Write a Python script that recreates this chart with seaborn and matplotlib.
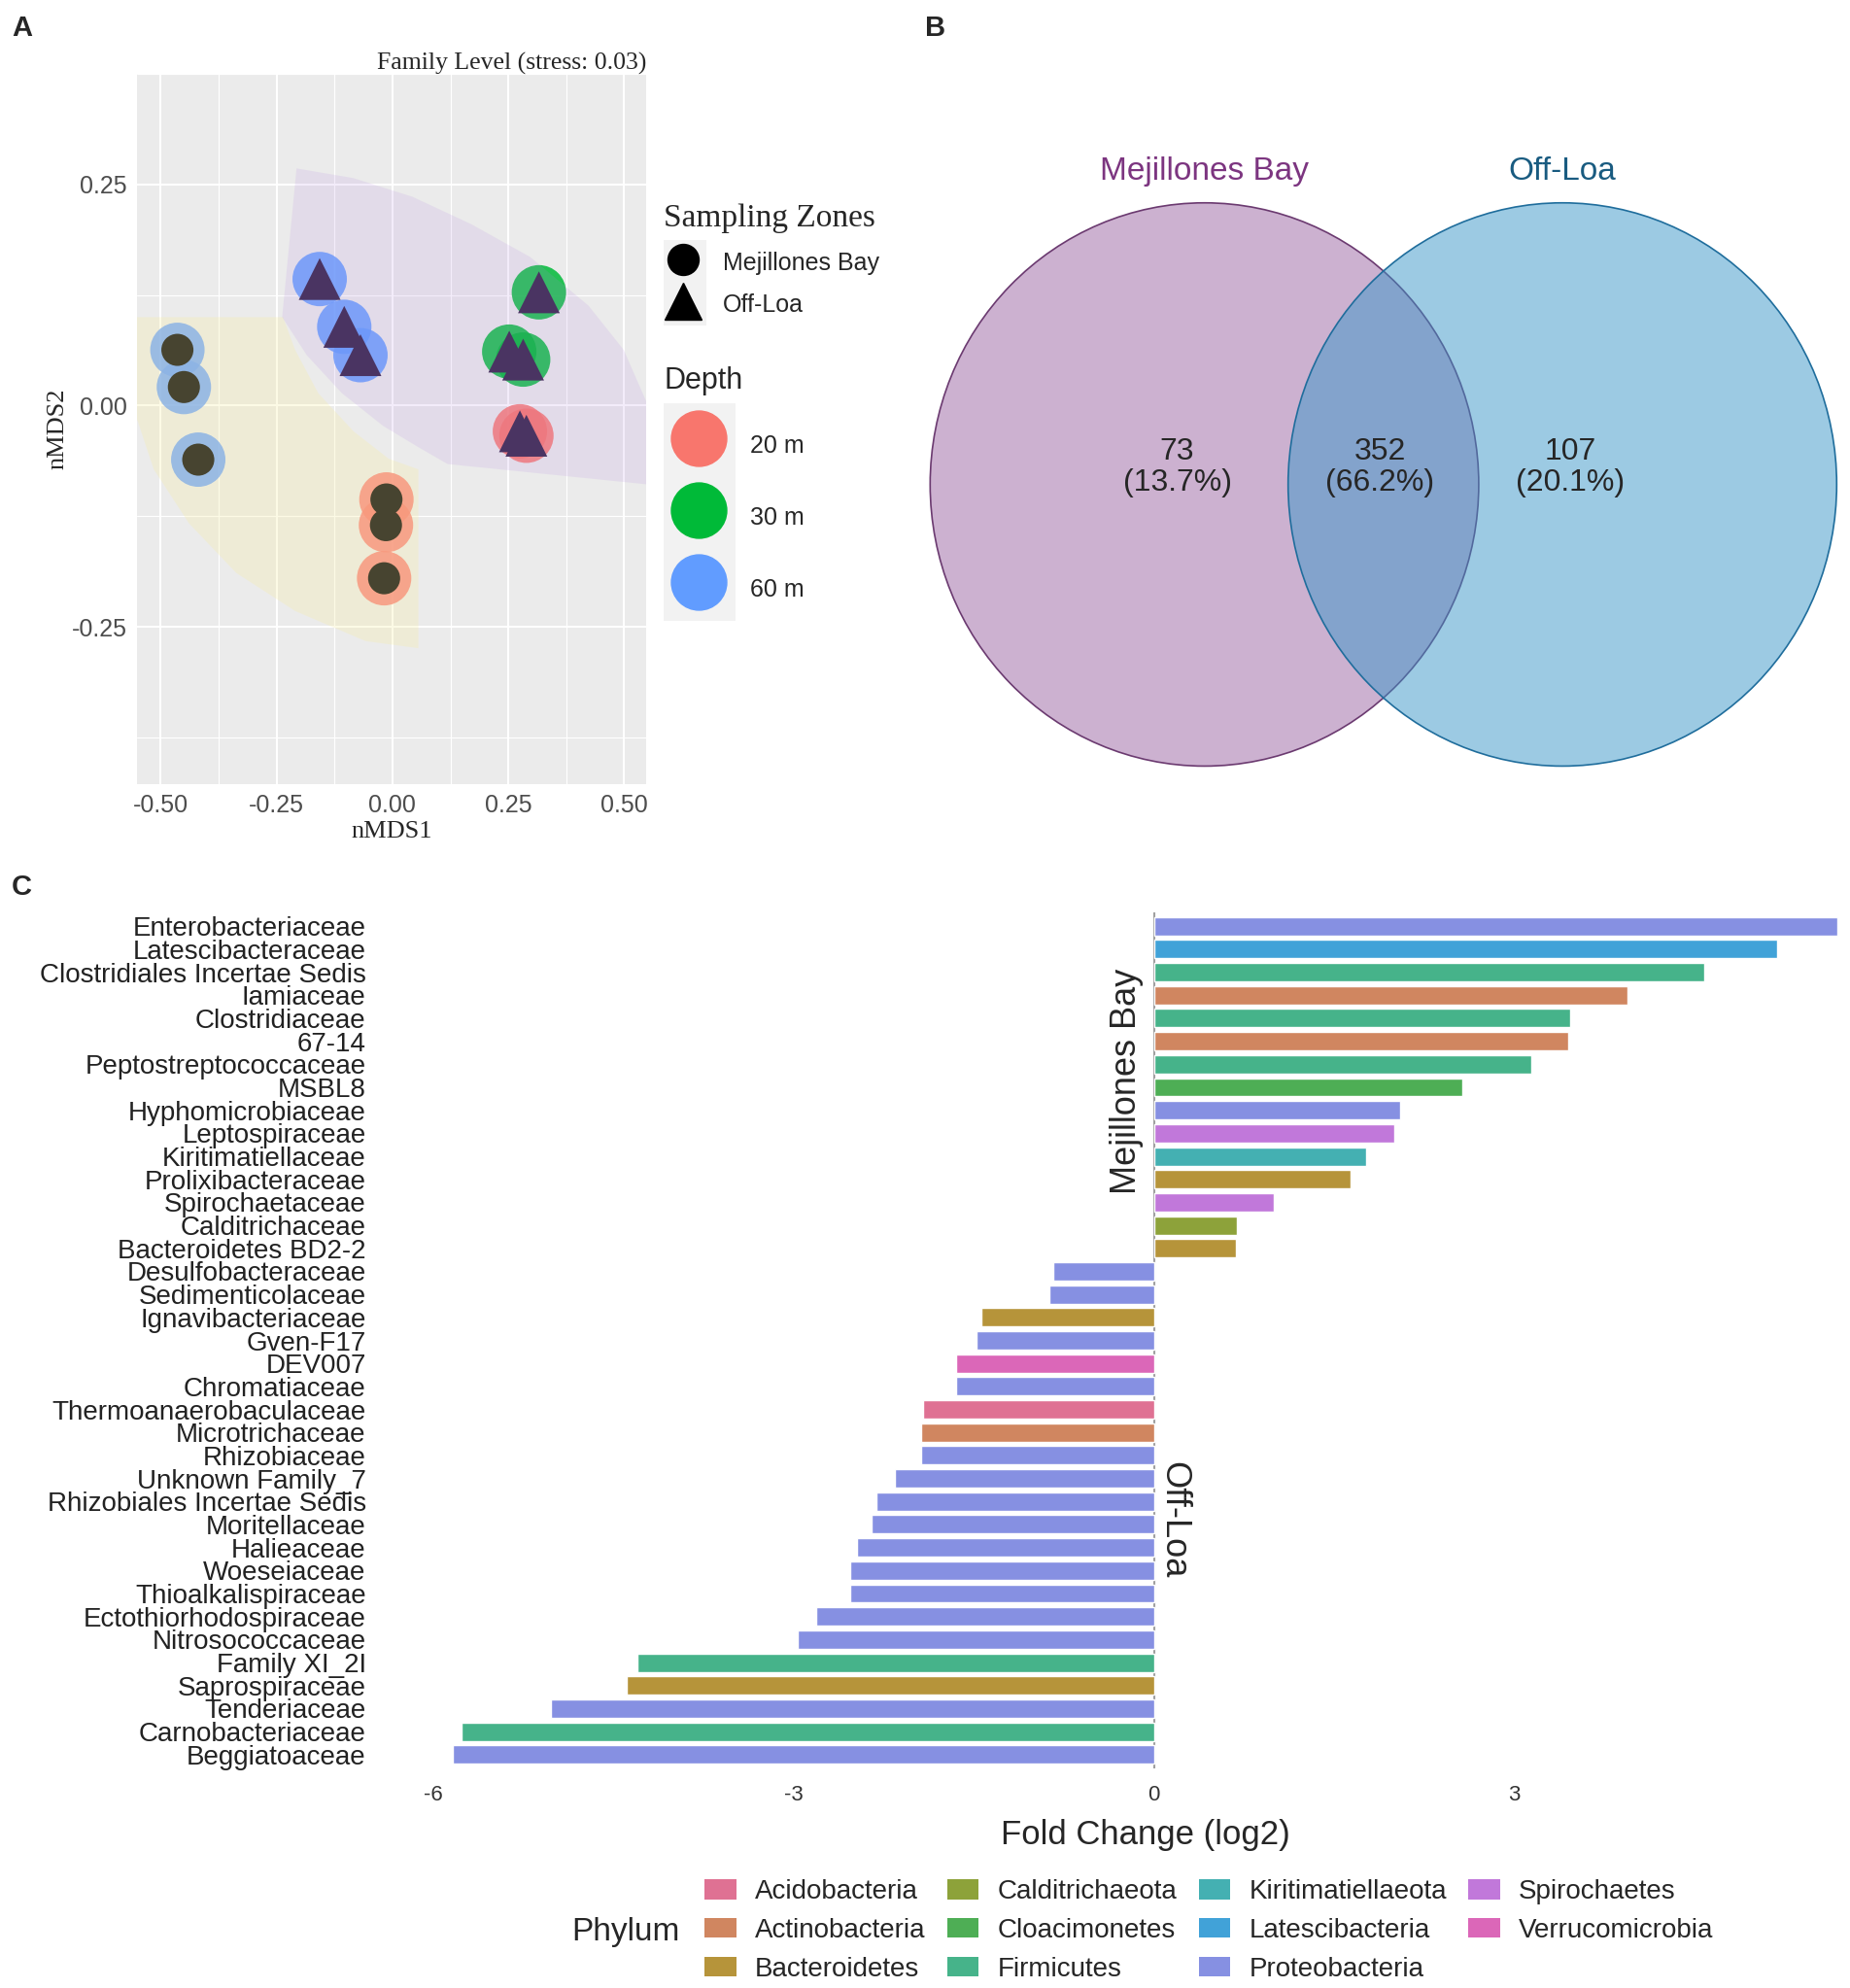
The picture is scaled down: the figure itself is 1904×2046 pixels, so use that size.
"""Three-panel figure: nMDS ordination, Venn diagram and fold-change bars."""

import numpy as np
import pandas as pd
import matplotlib
matplotlib.use("Agg")
import matplotlib.pyplot as plt
import seaborn as sns
from matplotlib.patches import Ellipse, Rectangle, Patch
from matplotlib.lines import Line2D

sns.set_theme(style="white")
plt.rcParams["font.family"] = ["Liberation Sans", "DejaVu Sans"]
SERIF = "Liberation Serif"

# ---------------- data: panel A (nMDS) ----------------
nmds1 = [-0.464, -0.450, -0.419, -0.013, -0.014, -0.018,
         -0.157, -0.104, -0.069, 0.316, 0.252, 0.282, 0.275, 0.289]
nmds2 = [0.063, 0.021, -0.061, -0.106, -0.135, -0.195,
         0.143, 0.089, 0.057, 0.128, 0.061, 0.052, -0.029, -0.034]
zone = ["Mejillones Bay"] * 6 + ["Off-Loa"] * 8
depth = ["60 m", "60 m", "60 m", "20 m", "20 m", "20 m",
         "60 m", "60 m", "60 m", "30 m", "30 m", "30 m", "20 m", "20 m"]

# shaded group regions (nMDS units)
mej_region_x = [-0.62, -0.236, -0.210, -0.160, -0.084, -0.008, 0.056, 0.056,
                -0.058, -0.210, -0.337, -0.439, -0.515, -0.550, -0.62]
mej_region_y = [0.100, 0.100, 0.063, 0.014, -0.029, -0.060, -0.072, -0.274,
                -0.266, -0.232, -0.189, -0.133, -0.072, -0.017, 0.030]
off_region_x = [-0.207, -0.238, -0.185, -0.109, -0.020, 0.056, 0.119, 0.550,
                0.62, 0.62, 0.550, 0.499, 0.423, 0.297, 0.170, 0.043, -0.084]
off_region_y = [0.268, 0.100, 0.057, 0.014, -0.023, -0.047, -0.066, -0.089,
                -0.094, -0.040, 0.002, 0.063, 0.113, 0.168, 0.205, 0.236, 0.257]

# ---------------- data: panel B (Venn) ----------------
venn_sets = ["Mejillones Bay", "Off-Loa"]
venn_counts = [73, 352, 107]   # only Mejillones, shared, only Off-Loa

# ---------------- data: panel C (fold change) ----------------
families = ["Enterobacteriaceae", "Latescibacteraceae", "Clostridiales Incertae Sedis",
            "Iamiaceae", "Clostridiaceae", "67-14", "Peptostreptococcaceae", "MSBL8",
            "Hyphomicrobiaceae", "Leptospiraceae", "Kiritimatiellaceae",
            "Prolixibacteraceae", "Spirochaetaceae", "Calditrichaceae",
            "Bacteroidetes BD2-2", "Desulfobacteraceae", "Sedimenticolaceae",
            "Ignavibacteriaceae", "Gven-F17", "DEV007", "Chromatiaceae",
            "Thermoanaerobaculaceae", "Microtrichaceae", "Rhizobiaceae",
            "Unknown Family_7", "Rhizobiales Incertae Sedis", "Moritellaceae",
            "Halieaceae", "Woeseiaceae", "Thioalkalispiraceae",
            "Ectothiorhodospiraceae", "Nitrosococcaceae", "Family XI_2I",
            "Saprospiraceae", "Tenderiaceae", "Carnobacteriaceae", "Beggiatoaceae"]
fold_change = [5.69, 5.19, 4.58, 3.94, 3.47, 3.45, 3.14, 2.57, 2.05, 2.00, 1.77,
               1.64, 1.00, 0.69, 0.68, -0.84, -0.87, -1.44, -1.48, -1.65, -1.65,
               -1.92, -1.94, -1.94, -2.16, -2.31, -2.35, -2.47, -2.53, -2.53,
               -2.81, -2.97, -4.30, -4.39, -5.02, -5.77, -5.84]
phylum = ["Proteobacteria", "Latescibacteria", "Firmicutes", "Actinobacteria",
          "Firmicutes", "Actinobacteria", "Firmicutes", "Cloacimonetes",
          "Proteobacteria", "Spirochaetes", "Kiritimatiellaeota", "Bacteroidetes",
          "Spirochaetes", "Calditrichaeota", "Bacteroidetes", "Proteobacteria",
          "Proteobacteria", "Bacteroidetes", "Proteobacteria", "Verrucomicrobia",
          "Proteobacteria", "Acidobacteria", "Actinobacteria"] + \
         ["Proteobacteria"] * 9 + \
         ["Firmicutes", "Bacteroidetes", "Proteobacteria", "Firmicutes", "Proteobacteria"]
phyla = ["Acidobacteria", "Actinobacteria", "Bacteroidetes", "Calditrichaeota",
         "Cloacimonetes", "Firmicutes", "Kiritimatiellaeota", "Latescibacteria",
         "Proteobacteria", "Spirochaetes", "Verrucomicrobia"]

# ---------------- styles ----------------
DEPTH_COLORS = {"20 m": "#F8766D", "30 m": "#00BA38", "60 m": "#619CFF"}
ZONE_COLORS = {"Mejillones Bay": "#000000", "Off-Loa": "#38274c"}
ZONE_MARKERS = {"Mejillones Bay": "o", "Off-Loa": "^"}
ZONE_SIZES = {"Mejillones Bay": 566, "Off-Loa": 961}
PHYLUM_COLORS = dict(zip(phyla, ["#df7193", "#d08660", "#b6943a", "#8da23a",
                                 "#4eae55", "#46b38a", "#44b0b2", "#41a2d8",
                                 "#8690e2", "#c178da", "#db67b8"]))

W, H = 1904, 2046
fig = plt.figure(figsize=(W / 100, H / 100), dpi=100)


def box(left, top, right, bottom):
    return [left / W, 1 - bottom / H, (right - left) / W, (bottom - top) / H]


def fx(px):
    return px / W


def fy(py):
    return 1 - py / H


# ================= Panel A =================
df_a = pd.DataFrame({"nMDS1": nmds1, "nMDS2": nmds2, "Zone": zone, "Depth": depth})
ax_a = fig.add_axes(box(140.6, 75.8, 665.3, 806.5))
ax_a.set_facecolor("#ebebeb")

sns.scatterplot(data=df_a, x="nMDS1", y="nMDS2", hue="Depth", palette=DEPTH_COLORS,
                s=1625, linewidth=0, alpha=0.85, legend=False, ax=ax_a, zorder=2)
sns.scatterplot(data=df_a, x="nMDS1", y="nMDS2", hue="Zone", style="Zone", size="Zone",
                palette=ZONE_COLORS, markers=ZONE_MARKERS, sizes=ZONE_SIZES,
                linewidth=0, legend=False, ax=ax_a, zorder=3)
ax_a.fill(mej_region_x, mej_region_y, color="#f8eea6", alpha=0.29, lw=0, zorder=4)
ax_a.fill(off_region_x, off_region_y, color="#b485e3", alpha=0.15, lw=0, zorder=4)

ax_a.set_xlim(-0.552, 0.548)
ax_a.set_ylim(-0.427, 0.374)
ax_a.set_xticks([-0.5, -0.25, 0, 0.25, 0.5])
ax_a.set_xticklabels(["-0.50", "-0.25", "0.00", "0.25", "0.50"])
ax_a.set_xticks([-0.375, -0.125, 0.125, 0.375], minor=True)
ax_a.set_yticks([-0.25, 0, 0.25])
ax_a.set_yticklabels(["-0.25", "0.00", "0.25"])
ax_a.set_yticks([-0.375, -0.125, 0.125, 0.375], minor=True)
ax_a.set_axisbelow(True)
ax_a.grid(which="major", color="white", lw=1.5)
ax_a.grid(which="minor", color="white", lw=0.8)
ax_a.tick_params(which="major", length=3.3, width=1, color="#333333",
                 labelsize=18, labelcolor="#4d4d4d", pad=4)
ax_a.tick_params(which="minor", length=0)
for sp in ax_a.spines.values():
    sp.set_visible(False)
ax_a.set_xlabel("nMDS1", fontfamily=SERIF, fontsize=19, labelpad=3)
ax_a.set_ylabel("nMDS2", fontfamily=SERIF, fontsize=19, labelpad=2)
ax_a.set_title("Family Level (stress: 0.03)", loc="right", fontfamily=SERIF,
               fontsize=18.5, pad=3)

# legend key backgrounds
for (l, t, r, b) in [(683, 247, 727, 335), (683, 415, 757, 639)]:
    fig.patches.append(Rectangle((fx(l), fy(b)), (r - l) / W, (b - t) / H,
                                 transform=fig.transFigure, facecolor="#f2f2f2",
                                 edgecolor="none", zorder=1))

zone_handles = [Line2D([], [], ls="", marker=ZONE_MARKERS[z], color="black",
                       markersize=23 if ZONE_MARKERS[z] == "o" else 28)
                for z in ZONE_MARKERS]
leg1 = fig.legend(zone_handles, list(ZONE_MARKERS), loc="upper left",
                  bbox_to_anchor=(fx(683), fy(209)), bbox_transform=fig.transFigure,
                  frameon=False, fontsize=18, borderpad=0, borderaxespad=0,
                  handlelength=1.6, handletextpad=0.84, handleheight=1.2,
                  labelspacing=0.68, alignment="left")
leg1.set_title("Sampling Zones", prop={"family": SERIF, "size": 24})

depth_handles = [Line2D([], [], ls="", marker="o", color=c, markersize=41)
                 for c in DEPTH_COLORS.values()]
leg2 = fig.legend(depth_handles, list(DEPTH_COLORS), loc="upper left",
                  bbox_to_anchor=(fx(683), fy(377)), bbox_transform=fig.transFigure,
                  frameon=False, fontsize=18, borderpad=0, borderaxespad=0,
                  handlelength=2.9, handletextpad=0.68, handleheight=2.4,
                  labelspacing=1.15, alignment="left")
leg2.set_title("Depth", prop={"size": 22})

# ================= Panel B =================
ax_b = fig.add_axes(box(950, 90, 1904, 880))
ax_b.set_xlim(950, 1904)
ax_b.set_ylim(880, 90)
ax_b.axis("off")
venn_fill = ["#9b65a3", "#3b97c9"]
venn_edge = ["#6b3a70", "#1f6d9c"]
venn_text = ["#7c3580", "#195b80"]
venn_cx = [1239.6, 1608.0]
for i in range(2):
    ax_b.add_patch(Ellipse((venn_cx[i], 498.6), 564.6, 579.7, facecolor=venn_fill[i],
                           alpha=0.5, edgecolor="none"))
    ax_b.add_patch(Ellipse((venn_cx[i], 498.6), 564.6, 579.7, fill=False,
                           edgecolor=venn_edge[i], lw=1.2))
    ax_b.text(venn_cx[i], 176, venn_sets[i], color=venn_text[i], fontsize=24,
              ha="center", va="center")
total = sum(venn_counts)
for x, n in zip([1211.6, 1420.0, 1616.0], venn_counts):
    ax_b.text(x, 481, f"{n}\n({100 * n / total:.1f}%)", fontsize=23,
              ha="center", va="center", linespacing=1.12)

# ================= Panel C =================
df_c = pd.DataFrame({"Family": families, "FoldChange": fold_change, "Phylum": phylum})
ax_c = fig.add_axes(box(394.7, 939, 1962.5, 1820))
sns.barplot(data=df_c, x="FoldChange", y="Family", hue="Phylum", order=families,
            hue_order=phyla, palette=PHYLUM_COLORS, dodge=False, saturation=1,
            width=0.8, orient="h", legend=False, ax=ax_c)
ax_c.axvline(0, color="#a0a0a0", lw=1.5, zorder=0.5)
ax_c.set_xlim(-6.417, 6.27)
ax_c.set_ylim(36.6, -0.6)
ax_c.set_xticks([-6, -3, 0, 3])
ax_c.set_xticklabels(["-6", "-3", "0", "3"])
ax_c.tick_params(axis="x", length=0, labelsize=16, labelcolor="#333333", pad=12)
ax_c.tick_params(axis="y", length=0, labelsize=20, labelcolor="#222222", pad=13)
for sp in ax_c.spines.values():
    sp.set_visible(False)
ax_c.set_ylabel("")
ax_c.set_xlabel("Fold Change (log2)", fontsize=25, labelpad=10)
ax_c.text(-0.23, 6.74, "Mejillones Bay", rotation=90, ha="center", va="center",
          fontsize=26)
ax_c.text(0.165, 25.8, "Off-Loa", rotation=270, ha="center", va="center", fontsize=26)

phylum_handles = [Patch(facecolor=PHYLUM_COLORS[p], edgecolor="none") for p in phyla]
fig.legend(phylum_handles, phyla, loc="upper left", ncol=4,
           bbox_to_anchor=(fx(725), fy(1934)), bbox_transform=fig.transFigure,
           frameon=False, fontsize=20, borderpad=0, borderaxespad=0,
           handlelength=1.17, handleheight=0.76, handletextpad=0.7,
           columnspacing=0.8, labelspacing=0.5)
fig.text(fx(588.7), fy(1989), "Phylum", fontsize=24, ha="left", va="center")

# panel letters
for letter, x, y in [("A", 12, 29), ("B", 952, 29), ("C", 12, 913)]:
    fig.text(fx(x), fy(y), letter, fontsize=21, fontweight="bold", ha="left", va="center")

fig.savefig("out.png", dpi=100, facecolor="white")
